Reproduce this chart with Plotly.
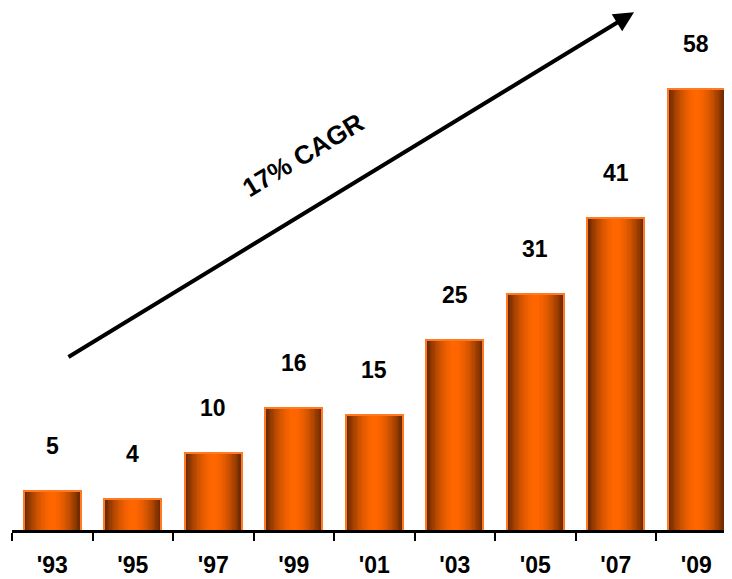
import plotly.graph_objects as go

# ---- data ----
years = ["'93", "'95", "'97", "'99", "'01", "'03", "'05", "'07", "'09"]
values = [5, 4, 10, 16, 15, 25, 31, 41, 58]
cagr_label = "17% CAGR"

# ---- styling ----
FONT = "Arial, Liberation Sans, sans-serif"
DARK = (105, 40, 0)
BRIGHT = (255, 102, 0)
OUTLINE = "#FF7A22"
BAR_W = 0.683
N_LAYERS = 22


def mix(t):
    r = [round(DARK[i] + (BRIGHT[i] - DARK[i]) * t) for i in range(3)]
    return f"rgb({r[0]},{r[1]},{r[2]})"


fig = go.Figure()

# outline layer
fig.add_trace(go.Bar(
    x=years, y=values, width=BAR_W,
    marker=dict(color=OUTLINE, line=dict(color=OUTLINE, width=4)),
    hoverinfo="skip", showlegend=False,
))

# gradient layers (nested, darkest outside, brightest in the middle)
for k in range(N_LAYERS):
    w = BAR_W * (1 - k / N_LAYERS)
    d = 1 - (k + 0.5) / N_LAYERS
    t = 1 - d ** 1.8
    fig.add_trace(go.Bar(
        x=years, y=values, width=w,
        marker=dict(color=mix(t), line=dict(width=0)),
        hoverinfo="skip", showlegend=False,
    ))

# value labels
for yr, v in zip(years, values):
    fig.add_annotation(
        x=yr, y=v, xref="x", yref="y", text=str(v), showarrow=False,
        yanchor="bottom", yshift=31,
        font=dict(family=FONT, size=23, color="black", weight="bold"),
    )

# growth arrow
fig.add_annotation(
    x=7.227, y=68.3, ax=0.183, ay=22.7,
    xref="x", yref="y", axref="x", ayref="y",
    text="", showarrow=True, arrowhead=2, arrowsize=1.0,
    arrowwidth=4, arrowcolor="black",
)
fig.add_annotation(
    x=3.115, y=49.5, xref="x", yref="y", text=cagr_label, showarrow=False,
    textangle=-31,
    font=dict(family=FONT, size=26, color="black", weight="bold"),
)

fig.update_layout(
    width=724, height=571,
    margin=dict(l=4, r=0, t=2, b=49),
    barmode="overlay",
    bargap=0,
    plot_bgcolor="white", paper_bgcolor="white",
    showlegend=False,
)
fig.update_xaxes(
    type="category", categoryorder="array", categoryarray=years,
    range=[-0.5, 8.444],
    tickson="boundaries", ticks="outside", ticklen=8, tickwidth=2,
    tickcolor="black",
    showline=True, linewidth=3, linecolor="black",
    showgrid=False, zeroline=False,
    ticklabelstandoff=12,
    tickfont=dict(family=FONT, size=23, color="black", weight="bold"),
)
fig.update_yaxes(visible=False, range=[0, 68.6], fixedrange=True)

fig.write_html("out.html")
